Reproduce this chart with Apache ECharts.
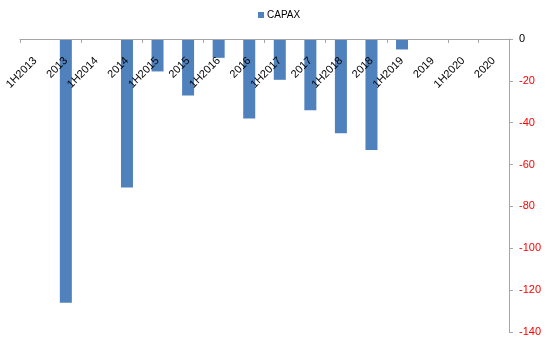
<!DOCTYPE html>
<html>
<head>
<meta charset="utf-8">
<script src="https://cdn.jsdelivr.net/npm/echarts@6/dist/echarts.min.js"></script>
<style>html,body{margin:0;padding:0;background:#fff}#c{width:554px;height:344px}</style>
</head>
<body>
<div id="c"></div>
<script>
const categories = ['1H2013','2013','1H2014','2014','1H2015','2015','1H2016','2016','1H2017','2017','1H2018','2018','1H2019','2019','1H2020','2020'];
const capex = [null,-126,null,-71,-15.5,-27,-9,-38,-19.5,-34,-45,-53,-5,null,null,null];
const seriesName = 'CAPAX';

const chart = echarts.init(document.getElementById('c'), null, {renderer:'canvas'});
const font = '"Liberation Sans", Arial, sans-serif';
chart.setOption({
  animation:false,
  textStyle:{fontFamily:font},
  legend:{
    data:[seriesName], top:10, left:258, padding:0,
    itemWidth:6, itemHeight:6, itemGap:4,
    icon:'rect',
    textStyle:{fontSize:10, color:'#000', fontFamily:font, padding:[0,0,0,-2]}
  },
  grid:{left:20, right:45, top:39, bottom:12, containLabel:false},
  xAxis:{
    type:'category', data:categories, boundaryGap:true, position:'top', z:5,
    axisLine:{onZero:false, lineStyle:{color:'#a6a6a6', width:1}},
    axisTick:{show:true, inside:true, interval:1, length:4, lineStyle:{color:'#a6a6a6'}},
    axisLabel:{inside:true, interval:0, rotate:-45, margin:20, align:'right', verticalAlign:'middle',
      fontSize:11, color:'#000', fontFamily:font},
    splitLine:{show:false}
  },
  yAxis:{
    type:'value', position:'right', min:-140, max:0, interval:20,
    axisLine:{show:true, lineStyle:{color:'#a6a6a6'}},
    axisTick:{show:true, length:4, lineStyle:{color:'#a6a6a6'}},
    axisLabel:{margin:10, fontSize:11, fontFamily:font,
      color:function(v){ return Number(v) < 0 ? '#ff0000' : '#000'; }},
    splitLine:{show:false}
  },
  series:[{
    name:seriesName, type:'bar', data:capex, barWidth:12,
    itemStyle:{color:'#4f81bd'}
  }]
});
</script>
</body>
</html>
